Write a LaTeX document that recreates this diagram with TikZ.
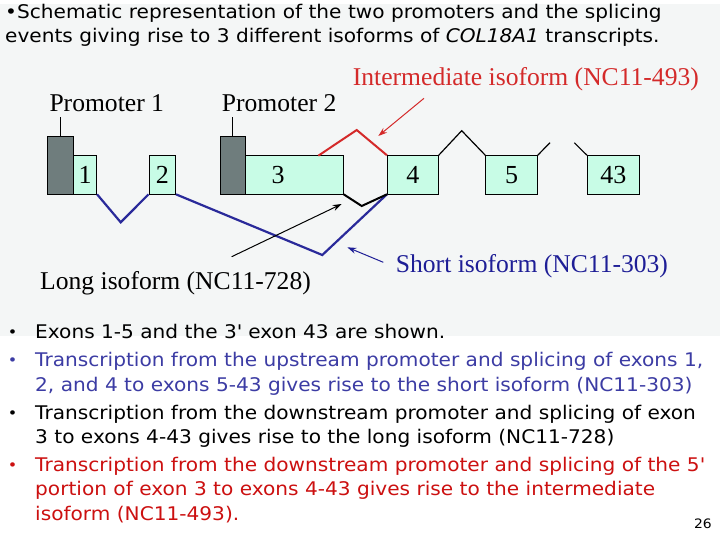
\documentclass[tikz,border=0pt]{standalone}
\usepackage{fontspec}
\setmainfont{DejaVu Sans}[FakeStretch=1.07]
\newfontfamily\timesf{Liberation Serif}
\usetikzlibrary{arrows.meta}
\definecolor{bg}{HTML}{F4F6F6}
\definecolor{exonfill}{HTML}{C8FCE6}
\definecolor{promfill}{HTML}{6F7D7D}
\definecolor{lineblue}{HTML}{2A2A9A}
\definecolor{txtblue}{HTML}{3C3CA4}
\definecolor{txtred}{HTML}{CC1010}
\definecolor{labred}{HTML}{D42A2A}
\definecolor{labblue}{HTML}{1E1E96}
\begin{document}
\begin{tikzpicture}[x=1pt,y=-1pt,
  txt/.style={anchor=base west, inner sep=0pt, font=\fontsize{18.8}{20}\selectfont},
  bul/.style={anchor=base, inner sep=0pt, font=\fontsize{15}{16}\selectfont},
  lab/.style={anchor=base west, inner sep=0pt, font=\timesf\fontsize{25.6}{26}\selectfont},
  exon/.style={draw=black, line width=0.8pt, fill=exonfill, minimum height=38.3pt, inner sep=0pt, font=\timesf\fontsize{26}{26}\selectfont},
  prom/.style={draw=black, line width=0.8pt, fill=promfill, minimum height=57.3pt, inner sep=0pt},
  bluel/.style={draw=lineblue, line width=2.2pt},
  blackl/.style={draw=black, line width=2pt},
  redl/.style={draw=labred, line width=2pt},
  thinl/.style={draw=black, line width=1.2pt},
  arr/.style={line width=1pt, -{Stealth[length=9pt,width=6pt]}}]
\useasboundingbox (0,0) rectangle (720,540);
\fill[white] (0,0) rectangle (720,540);
\fill[bg] (0,4) rectangle (720,336);

% title
\node[txt] (t1) at (5,19) {•Schematic representation of the two promoters and the splicing};
\node[txt] (t2) at (5,42.5) {events giving rise to 3 different isoforms of \textit{COL18A1} transcripts.};

% boxes
\node[prom, minimum width=26pt] (p1) at (60.3,165.3) {};
\node[exon, minimum width=23.4pt] (e1) at (85,174.8) {1};
\node[exon, minimum width=26.7pt] (e2) at (162.3,174.8) {2};
\node[prom, minimum width=25.7pt] (p2) at (232.8,165.3) {};
\node[exon, minimum width=97.6pt] (e3) at (294.5,174.8) {};
\node[anchor=center, inner sep=0pt, font=\timesf\fontsize{26}{26}\selectfont] (e3t) at (278,174.8) {3};
\node[exon, minimum width=51pt] (e4) at (412.8,174.8) {4};
\node[exon, minimum width=51.6pt] (e5) at (511.5,174.8) {5};
\node[exon, minimum width=52pt] (e43) at (613.3,174.8) {43};

% promoter labels
\node[lab] (pl1) at (49.3,111.7) {Promoter 1};
\node[lab] (pl2) at (221.7,111.7) {Promoter 2};
\coordinate (pt1) at (60.7,116.7);
\coordinate (pt2) at (232.3,116.7);
\draw[line width=0.9pt] (p1.north -| pt1) -- (pt1);
\draw[line width=0.9pt] (p2.north -| pt2) -- (pt2);

% isoform labels
\node[lab, text=labred] (il) at (352.7,86) {Intermediate isoform (NC11-493)};
\node[lab, text=labblue] (sl) at (395.7,272.3) {Short isoform (NC11-303)};
\node[lab] (ll) at (40,289.3) {Long isoform (NC11-728)};

% splice coordinates
\coordinate (b1) at (120.7,222.3);
\coordinate (b2) at (322.3,255);
\coordinate (k1) at (361.7,206);
\coordinate (r0) at (318.3,155.7);
\coordinate (r1) at (356.7,130);
\coordinate (k2) at (461.7,130.7);
\coordinate (c1) at (550,142.7);
\coordinate (c2) at (574.3,142.7);

\draw[bluel] (e1.south east) -- (b1) -- (e2.south west);
\draw[bluel] (e2.south east) -- (b2) -- (e4.south west);
\draw[blackl] (e3.south east) -- (k1) -- (e4.south west);
\draw[redl] (r0) -- (r1) -- (e4.north west);
\draw[thinl] (e4.north east) -- (k2) -- (e5.north west);
\draw[thinl] (e5.north east) -- (c1);
\draw[thinl] (c2) -- (e43.north west);

% arrows
\coordinate (ia0) at (424,98.3);
\coordinate (ia1) at (378.3,136);
\coordinate (sa0) at (383.3,262.3);
\coordinate (sa1) at (347.3,247.3);
\coordinate (la0) at (231.7,256.7);
\coordinate (la1) at (341.7,204);
\draw[arr, labred] (ia0) -- (ia1);
\draw[arr, labblue] (sa0) -- (sa1);
\draw[arr, black] (la0) -- (la1);

% bullets
\node[bul] (bu1) at (12.7,337.3) {•};
\node[txt] (l1) at (35,338.3) {Exons 1-5 and the 3\textquotesingle{} exon 43 are shown.};
\node[bul, text=txtblue] (bu2) at (12.7,365.7) {•};
\node[txt, text=txtblue] (l2) at (35,366.7) {Transcription from the upstream promoter and splicing of exons 1,};
\node[txt, text=txtblue] (l3) at (35,391) {2, and 4 to exons 5-43 gives rise to the short isoform (NC11-303)};
\node[bul] (bu3) at (12.7,418.3) {•};
\node[txt] (l4) at (35,419.3) {Transcription from the downstream promoter and splicing of exon};
\node[txt] (l5) at (35,443.3) {3 to exons 4-43 gives rise to the long isoform (NC11-728)};
\node[bul, text=txtred] (bu4) at (12.7,470.7) {•};
\node[txt, text=txtred] (l6) at (35,471.7) {Transcription from the downstream promoter and splicing of the 5\textquotesingle};
\node[txt, text=txtred] (l7) at (35,495.7) {portion of exon 3 to exons 4-43 gives rise to the intermediate};
\node[txt, text=txtred] (l8) at (35,520) {isoform (NC11-493).};
\node[anchor=base east, inner sep=0pt, font=\fontsize{13}{14}\selectfont] (pg) at (712,528.3) {26};
\end{tikzpicture}
\end{document}
